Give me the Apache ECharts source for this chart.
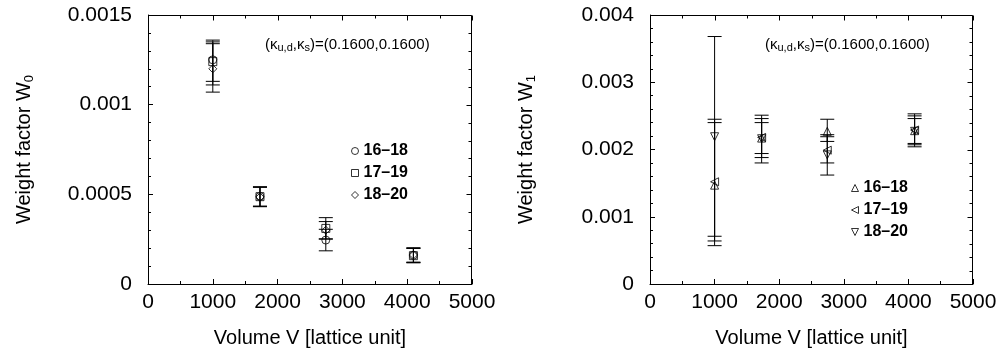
<!DOCTYPE html>
<html>
<head>
<meta charset="utf-8">
<script src="https://cdn.jsdelivr.net/npm/echarts@6/dist/echarts.min.js"></script>
<style>
  html, body { margin: 0; padding: 0; background: #fff; }
  #chart { width: 1003px; height: 354px; }
</style>
</head>
<body>
<div id="chart"></div>
<script>
// lattice volumes (10^3, 12^3, 14^3, 16^3)
const volumes = [1000, 1728, 2744, 4096];
const fitRanges = ['16–18', '17–19', '18–20'];
const xTicks = [0, 1000, 2000, 3000, 4000, 5000];
const w0Ticks = [0, 0.0005, 0.001, 0.0015];
const w1Ticks = [0, 0.001, 0.002, 0.003, 0.004];

// W0, fit range 16-18 / 17-19 / 18-20 : value, lower, upper
const w0_1618 = [0.00125, 0.000488, 0.000245, 0.000160];
const w0_1618_lo = [0.00113, 0.000434, 0.000185, 0.000120];
const w0_1618_hi = [0.00136, 0.000542, 0.000305, 0.000200];
const w0_1719 = [0.00124, 0.000487, 0.000310, 0.000158];
const w0_1719_lo = [0.00111, 0.000433, 0.000250, 0.000118];
const w0_1719_hi = [0.00134, 0.000541, 0.000370, 0.000198];
const w0_1820 = [0.00120, 0.000485, 0.000300, 0.000162];
const w0_1820_lo = [0.00107, 0.000431, 0.000252, 0.000122];
const w0_1820_hi = [0.00135, 0.000539, 0.000348, 0.000202];

// W1
const w1_1618 = [0.00147, 0.00217, 0.00227, 0.00228];
const w1_1618_lo = [0.00057, 0.00180, 0.00212, 0.00204];
const w1_1618_hi = [0.00240, 0.00251, 0.00245, 0.00253];
const w1_1719 = [0.00152, 0.00218, 0.00199, 0.00229];
const w1_1719_lo = [0.00064, 0.00188, 0.00180, 0.00209];
const w1_1719_hi = [0.00245, 0.00246, 0.00219, 0.00246];
const w1_1820 = [0.00219, 0.00216, 0.00192, 0.00227];
const w1_1820_lo = [0.00071, 0.00194, 0.00162, 0.00207];
const w1_1820_hi = [0.00368, 0.00240, 0.00222, 0.00250];

const FONT = 'Liberation Sans';
const chart = echarts.init(document.getElementById('chart'));

function fmt(v) { return String(+v.toFixed(6)); }

// triangle outlines for the legend
const TRI_UP = 'path://M5,0 L10,10 L0,10 Z';
const TRI_LEFT = 'path://M0,5 L10,0 L10,10 Z';
const TRI_DOWN = 'path://M0,0 L10,0 L5,10 Z';

function axesFor(grid, yTicks, yName) {
  const line = { show: true, onZero: false, lineStyle: { color: '#000', width: 1 } };
  const tick = { show: true, inside: true, length: 5, lineStyle: { color: '#000' } };
  return {
    x: {
      type: 'value', gridIndex: grid, position: 'bottom',
      min: xTicks[0], max: xTicks[xTicks.length - 1], interval: xTicks[1] - xTicks[0],
      axisLine: line, axisTick: tick, splitLine: { show: false },
      minorTick: { show: true, splitNumber: 2, length: 3, lineStyle: { color: '#000' } },
      axisLabel: { color: '#000', fontFamily: FONT, fontSize: 21, margin: 8, formatter: fmt },
      name: 'Volume V [lattice unit]', nameLocation: 'middle', nameGap: 44,
      nameTextStyle: { color: '#000', fontFamily: FONT, fontSize: 20 }
    },
    y: {
      type: 'value', gridIndex: grid, position: 'left',
      min: yTicks[0], max: yTicks[yTicks.length - 1], interval: yTicks[1] - yTicks[0],
      axisLine: line, axisTick: tick, splitLine: { show: false },
      minorTick: { show: true, splitNumber: 5, length: 3, lineStyle: { color: '#000' } },
      axisLabel: { color: '#000', fontFamily: FONT, fontSize: 21, margin: 16, formatter: fmt },
      name: '{m|Weight factor W}{s|' + yName + '}', nameLocation: 'middle', nameGap: 112,
      nameTextStyle: {
        color: '#000', fontFamily: FONT, fontSize: 20,
        rich: {
          m: { fontFamily: FONT, fontSize: 20, color: '#000' },
          s: { fontFamily: FONT, fontSize: 13, color: '#000', padding: [10, 0, 0, 0] }
        }
      }
    }
  };
}

const a0 = axesFor(0, w0Ticks, '0');
const a1 = axesFor(1, w1Ticks, '1');

function errData(lo, hi) {
  return volumes.map((v, i) => [v, lo[i], hi[i]]);
}
function ptData(vals) {
  return volumes.map((v, i) => [v, vals[i]]);
}

function errSeries(grid, lo, hi) {
  return {
    type: 'custom', xAxisIndex: grid, yAxisIndex: grid, silent: true, z: 2,
    data: errData(lo, hi),
    encode: { x: 0, y: [1, 2] },
    renderItem: function (params, api) {
      const top = api.coord([api.value(0), api.value(2)]);
      const bot = api.coord([api.value(0), api.value(1)]);
      const w = 7;
      const st = { stroke: '#000', lineWidth: 1 };
      return {
        type: 'group',
        children: [
          { type: 'line', shape: { x1: top[0], y1: top[1], x2: bot[0], y2: bot[1] }, style: st },
          { type: 'line', shape: { x1: top[0] - w, y1: top[1], x2: top[0] + w, y2: top[1] }, style: st },
          { type: 'line', shape: { x1: bot[0] - w, y1: bot[1], x2: bot[0] + w, y2: bot[1] }, style: st }
        ]
      };
    }
  };
}

function ptSeries(grid, prefix, label, vals, symbol, rotate) {
  return {
    type: 'scatter', name: prefix + label, xAxisIndex: grid, yAxisIndex: grid, z: 3,
    data: ptData(vals), symbol: symbol, symbolSize: 8, symbolRotate: rotate || 0,
    itemStyle: { color: 'rgba(0,0,0,0)', borderColor: '#000', borderWidth: 1 },
    emphasis: { disabled: true }
  };
}

const legendBase = {
  orient: 'vertical', itemWidth: 7, itemHeight: 7, itemGap: 6,
  textStyle: { color: '#000', fontFamily: FONT, fontSize: 16, fontWeight: 'bold' },
  itemStyle: { color: 'rgba(0,0,0,0)', borderColor: '#000', borderWidth: 1 },
  formatter: function (n) { return n.slice(3); },
  selectedMode: false
};

const annot = '(κ{s|u,d},κ{s|s})=(0.1600,0.1600)';
const annotRich = { s: { fontFamily: FONT, fontSize: 11, fill: '#000', padding: [7, 0, 0, 0] } };
const annotFont = '15px "Liberation Sans"';

const option = {
  animation: false,
  backgroundColor: '#fff',
  grid: [
    { left: 148, top: 15, width: 324, height: 269 },
    { left: 650, top: 15, width: 323, height: 269 }
  ],
  xAxis: [a0.x, a1.x],
  yAxis: [a0.y, a1.y],
  legend: [
    Object.assign({}, legendBase, {
      left: 346, top: 138,
      data: [
        { name: 'W0 ' + fitRanges[0], icon: 'circle' },
        { name: 'W0 ' + fitRanges[1], icon: 'rect' },
        { name: 'W0 ' + fitRanges[2], icon: 'diamond' }
      ]
    }),
    Object.assign({}, legendBase, {
      left: 846, top: 175,
      data: [
        { name: 'W1 ' + fitRanges[0], icon: TRI_UP },
        { name: 'W1 ' + fitRanges[1], icon: TRI_LEFT },
        { name: 'W1 ' + fitRanges[2], icon: TRI_DOWN }
      ]
    })
  ],
  graphic: [
    { type: 'text', left: 265, top: 37, style: { text: annot, font: annotFont, fill: '#000', rich: annotRich } },
    { type: 'text', left: 765, top: 37, style: { text: annot, font: annotFont, fill: '#000', rich: annotRich } }
  ],
  series: [
    errSeries(0, w0_1618_lo, w0_1618_hi),
    errSeries(0, w0_1719_lo, w0_1719_hi),
    errSeries(0, w0_1820_lo, w0_1820_hi),
    ptSeries(0, 'W0 ', fitRanges[0], w0_1618, 'circle'),
    ptSeries(0, 'W0 ', fitRanges[1], w0_1719, 'rect'),
    ptSeries(0, 'W0 ', fitRanges[2], w0_1820, 'diamond'),
    errSeries(1, w1_1618_lo, w1_1618_hi),
    errSeries(1, w1_1719_lo, w1_1719_hi),
    errSeries(1, w1_1820_lo, w1_1820_hi),
    ptSeries(1, 'W1 ', fitRanges[0], w1_1618, 'triangle', 0),
    ptSeries(1, 'W1 ', fitRanges[1], w1_1719, 'triangle', 90),
    ptSeries(1, 'W1 ', fitRanges[2], w1_1820, 'triangle', 180)
  ]
};

chart.setOption(option);

// top and right frame with mirrored inward ticks, placed through the axes' own scale
function frameElements(grid, yTicks) {
  const cv = function (x, y) { return chart.convertToPixel({ gridIndex: grid }, [x, y]); };
  const x0 = xTicks[0], x1 = xTicks[xTicks.length - 1];
  const y0 = yTicks[0], y1 = yTicks[yTicks.length - 1];
  const tl = cv(x0, y1), br = cv(x1, y0);
  const T = Math.round(tl[1]) + 0.5, R = Math.round(br[0]) - 0.5, B = Math.round(br[1]);
  const st = { stroke: '#000', lineWidth: 1 };
  const els = [
    { type: 'polyline', z: 100, shape: { points: [[Math.round(tl[0]), T], [R, T], [R, B]] }, style: Object.assign({ fill: null }, st) }
  ];
  const dx = xTicks[1] - xTicks[0];
  xTicks.forEach(function (v, i) {
    const px = Math.round(cv(v, y1)[0]) + 0.5;
    els.push({ type: 'line', z: 100, shape: { x1: px, y1: T, x2: px, y2: T + 5 }, style: st });
    if (i < xTicks.length - 1) {
      const pm = Math.round(cv(v + dx / 2, y1)[0]) + 0.5;
      els.push({ type: 'line', z: 100, shape: { x1: pm, y1: T, x2: pm, y2: T + 3 }, style: st });
    }
  });
  const dy = yTicks[1] - yTicks[0];
  yTicks.forEach(function (v, i) {
    const py = Math.round(cv(x1, v)[1]) + 0.5;
    els.push({ type: 'line', z: 100, shape: { x1: R, y1: py, x2: R - 5, y2: py }, style: st });
    if (i < yTicks.length - 1) {
      for (let k = 1; k < 5; k++) {
        const pm = Math.round(cv(x1, v + dy * k / 5)[1]) + 0.5;
        els.push({ type: 'line', z: 100, shape: { x1: R, y1: pm, x2: R - 3, y2: pm }, style: st });
      }
    }
  });
  return els;
}

chart.setOption({
  graphic: option.graphic.concat(frameElements(0, w0Ticks), frameElements(1, w1Ticks))
});
</script>
</body>
</html>
